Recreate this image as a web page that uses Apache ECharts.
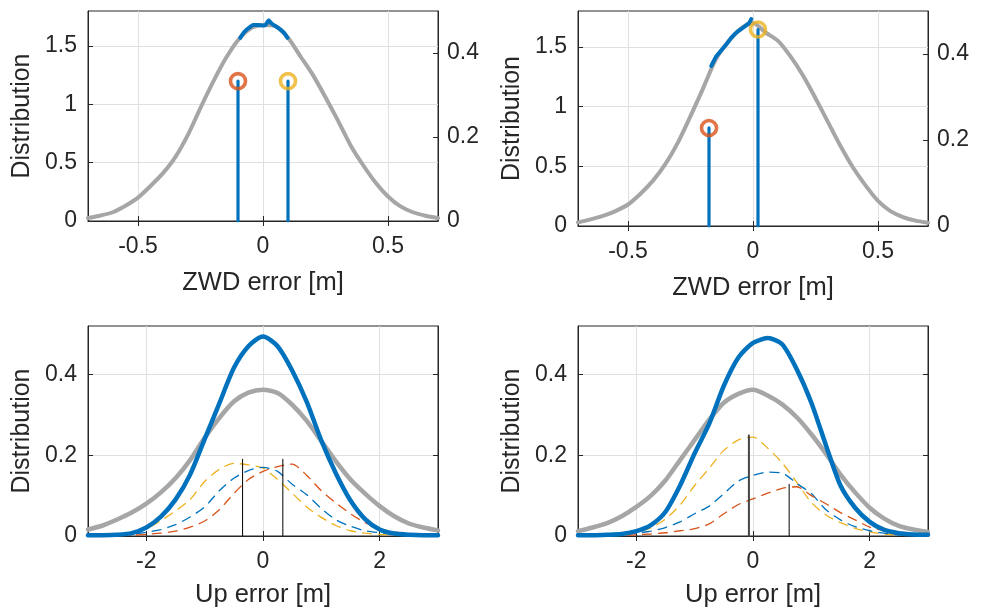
<!DOCTYPE html>
<html>
<head>
<meta charset="utf-8">
<title>ZWD / Up error distributions</title>
<script src="https://cdn.jsdelivr.net/npm/echarts@6.0.0/dist/echarts.min.js"></script>
<style>
  html, body { margin: 0; padding: 0; background: #fff; }
  #chart { width: 984px; height: 609px; }
</style>
</head>
<body>
<div id="chart"></div>
<script>
// ---- data ----
// top panels: ZWD error [m]
var zwdX = [-0.70,-0.65,-0.60,-0.55,-0.50,-0.45,-0.40,-0.35,-0.30,-0.25,-0.20,-0.15,-0.10,-0.05,
            0.00,0.05,0.10,0.15,0.20,0.25,0.30,0.35,0.40,0.45,0.50,0.55,0.60,0.65,0.70];
var zwdGrayA = [0.025,0.047,0.075,0.13,0.20,0.30,0.41,0.55,0.74,0.97,1.19,1.39,1.55,1.65,
                1.68,1.67,1.57,1.41,1.25,1.06,0.86,0.65,0.48,0.33,0.21,0.125,0.075,0.045,0.025];
var zwdGrayB = [0.03,0.055,0.085,0.125,0.18,0.27,0.38,0.52,0.70,0.92,1.15,1.39,1.54,1.65,
                1.70,1.62,1.55,1.42,1.26,1.07,0.87,0.67,0.49,0.34,0.21,0.125,0.075,0.045,0.028];
// highlighted (blue) part of the distribution
var zwdBlueAX = [-0.091,-0.075,-0.06,-0.04,-0.02,0.0,0.01,0.023,0.035,0.05,0.07,0.085,0.098];
var zwdBlueAY = [1.57,1.62,1.65,1.68,1.68,1.675,1.68,1.72,1.69,1.67,1.64,1.61,1.57];
var zwdBlueBX = [-0.167,-0.147,-0.113,-0.087,-0.06,-0.033,-0.015,-0.007];
var zwdBlueBY = [1.34,1.42,1.505,1.575,1.63,1.672,1.70,1.733];
// stems (right axis): [red, yellow]
var stemAX = [-0.10, 0.10];
var stemAY = [0.333, 0.333];
var stemBX = [-0.176, 0.02];
var stemBY = [0.228, 0.457];

// bottom panels: Up error [m]
var upX = [-3.00,-2.75,-2.50,-2.25,-2.00,-1.75,-1.50,-1.25,-1.00,-0.75,-0.50,-0.25,
           0.00,0.25,0.50,0.75,1.00,1.25,1.50,1.75,2.00,2.25,2.50,2.75,3.00];
var upGrayA = [0.016,0.026,0.041,0.058,0.080,0.108,0.143,0.188,0.243,0.292,0.333,0.355,
               0.362,0.354,0.325,0.285,0.235,0.185,0.140,0.105,0.074,0.049,0.031,0.021,0.014];
var upBlueA = [0.002,0.002,0.003,0.007,0.021,0.048,0.090,0.152,0.240,0.328,0.416,0.470,
               0.494,0.470,0.410,0.332,0.236,0.155,0.088,0.042,0.016,0.006,0.003,0.002,0.002];
var upYellowA = [0.000,0.001,0.003,0.008,0.018,0.038,0.062,0.090,0.135,0.165,0.180,0.176,
                 0.168,0.140,0.106,0.072,0.046,0.026,0.013,0.007,0.004,0.002,0.001,0.001,0.000];
var upDashBlueA = [0.000,0.001,0.002,0.004,0.009,0.016,0.028,0.047,0.072,0.112,0.143,0.162,
                   0.170,0.160,0.128,0.102,0.068,0.040,0.024,0.013,0.008,0.004,0.002,0.001,0.000];
var upRedA = [0.000,0.000,0.001,0.002,0.004,0.007,0.012,0.022,0.037,0.065,0.105,0.140,
              0.160,0.172,0.178,0.150,0.112,0.082,0.055,0.033,0.018,0.010,0.006,0.003,0.001];
var upMarkA = [[-0.35, 0.19], [0.34, 0.19]];

var upGrayB = [0.012,0.021,0.032,0.049,0.072,0.100,0.138,0.188,0.238,0.288,0.330,0.352,
               0.362,0.348,0.326,0.294,0.252,0.204,0.152,0.108,0.070,0.043,0.025,0.016,0.010];
var upBlueB = [0.002,0.002,0.003,0.005,0.012,0.027,0.060,0.125,0.205,0.278,0.372,0.442,
               0.478,0.490,0.475,0.413,0.330,0.225,0.125,0.070,0.035,0.015,0.007,0.004,0.003];
var upYellowB = [0.000,0.001,0.002,0.004,0.009,0.020,0.042,0.077,0.125,0.168,0.212,0.238,
                 0.245,0.218,0.181,0.133,0.083,0.052,0.033,0.019,0.010,0.005,0.003,0.001,0.000];
var upDashBlueB = [0.000,0.001,0.002,0.004,0.007,0.012,0.021,0.035,0.055,0.074,0.105,0.136,
                   0.150,0.158,0.156,0.130,0.105,0.065,0.040,0.023,0.013,0.007,0.003,0.001,0.000];
var upRedB = [0.000,0.000,0.001,0.002,0.003,0.005,0.008,0.013,0.018,0.030,0.055,0.078,
              0.092,0.106,0.118,0.122,0.100,0.080,0.058,0.040,0.022,0.013,0.007,0.004,0.002];
var upMarkB = [[-0.07, 0.249], [0.62, 0.128]];

// tick labels
var zwdTicks = [-0.5, 0, 0.5];
var upTicks = [-2, 0, 2];
var zwdLeftTicks = [0, 0.5, 1, 1.5];
var zwdRightTicks = [0, 0.2, 0.4];
var upYTicks = [0, 0.2, 0.4];

// ---- styles ----
var BLUE = '#0072BD', RED = '#D95319', YELLOW = '#EDB120', GRAY = '#A6A6A6', AX = '#262626';
var FONT = 'Liberation Sans, Arial, Helvetica, sans-serif';

function pairs(xs, ys) {
    return xs.map(function (x, i) { return [x, ys[i]]; });
}

var grids = [
    { left: 88, top: 11, width: 350, height: 210 },
    { left: 578, top: 11, width: 350, height: 215 },
    { left: 88, top: 326, width: 350, height: 211 },
    { left: 578, top: 326, width: 350, height: 211 }
];
grids.forEach(function (g) {
    g.show = true;
    g.borderColor = AX;
    g.borderWidth = 1;
    g.backgroundColor = '#fff';
    g.containLabel = false;
});

function xAxisFor(gi, min, max, ticks, name, gap) {
    return {
        type: 'value', gridIndex: gi, min: min, max: max, position: 'bottom',
        name: name, nameLocation: 'middle', nameGap: gap,
        nameTextStyle: { fontFamily: FONT, fontSize: 25.5, color: AX },
        axisLine: { show: true, onZero: false, lineStyle: { color: AX, width: 1 } },
        axisTick: { show: true, inside: true, length: 5, customValues: ticks, lineStyle: { color: AX } },
        axisLabel: { show: true, customValues: ticks, margin: 14, fontFamily: FONT, fontSize: 23, color: AX,
                     formatter: function (v) { return String(v); } },
        splitLine: { show: true, lineStyle: { color: '#e0e0e0', width: 1 } }
    };
}
function topAxisFor(gi, min, max, ticks) {
    return {
        type: 'value', gridIndex: gi, min: min, max: max, position: 'top',
        axisLine: { show: false },
        axisTick: { show: true, inside: true, length: 5, customValues: ticks, lineStyle: { color: AX } },
        axisLabel: { show: false },
        splitLine: { show: false }
    };
}
function yAxisFor(gi, max, ticks, side, name, labels, grid) {
    return {
        type: 'value', gridIndex: gi, min: 0, max: max, position: side,
        name: name || '', nameLocation: 'middle', nameGap: 53, nameRotate: 90,
        nameTextStyle: { fontFamily: FONT, fontSize: 25, color: AX },
        axisLine: { show: true, onZero: false, lineStyle: { color: AX, width: 1 } },
        axisTick: { show: true, inside: true, length: 5, customValues: ticks, lineStyle: { color: AX } },
        axisLabel: { show: labels, customValues: ticks, margin: side === 'left' ? 11 : 9,
                     fontFamily: FONT, fontSize: 23, color: AX,
                     formatter: function (v) { return String(v); } },
        splitLine: { show: grid, lineStyle: { color: '#e0e0e0', width: 1 } }
    };
}

var xAxes = [
    xAxisFor(0, -0.7, 0.7, zwdTicks, 'ZWD error [m]', 49),
    xAxisFor(1, -0.7, 0.7, zwdTicks, 'ZWD error [m]', 49),
    xAxisFor(2, -3, 3, upTicks, 'Up error [m]', 46),
    xAxisFor(3, -3, 3, upTicks, 'Up error [m]', 46),
    topAxisFor(0, -0.7, 0.7, zwdTicks),
    topAxisFor(1, -0.7, 0.7, zwdTicks),
    topAxisFor(2, -3, 3, upTicks),
    topAxisFor(3, -3, 3, upTicks)
];
var yAxes = [
    yAxisFor(0, 1.8, zwdLeftTicks, 'left', 'Distribution', true, true),
    yAxisFor(0, 0.5, zwdRightTicks, 'right', '', true, false),
    yAxisFor(1, 1.8, zwdLeftTicks, 'left', 'Distribution', true, true),
    yAxisFor(1, 0.5, zwdRightTicks, 'right', '', true, false),
    yAxisFor(2, 0.52, upYTicks, 'left', 'Distribution', true, true),
    yAxisFor(2, 0.52, upYTicks, 'right', '', false, false),
    yAxisFor(3, 0.52, upYTicks, 'left', 'Distribution', true, true),
    yAxisFor(3, 0.52, upYTicks, 'right', '', false, false)
];

var series = [];
function line(xi, yi, data, color, width, opts) {
    var s = {
        type: 'line', xAxisIndex: xi, yAxisIndex: yi, data: data,
        showSymbol: false, symbol: 'none', smooth: 0.25, silent: true,
        lineStyle: { color: color, width: width, cap: 'round', join: 'round' },
        z: 3
    };
    if (opts) Object.keys(opts).forEach(function (k) { s[k] = opts[k]; });
    return s;
}
function stems(xi, yi, xs, ys, ringColors) {
    xs.forEach(function (x, i) {
        series.push(line(xi, yi, [[x, 0], [x, ys[i]]], BLUE, 3.2, { smooth: false, z: 4 }));
        series.push({
            type: 'scatter', xAxisIndex: xi, yAxisIndex: yi, data: [[x, ys[i]]],
            symbol: 'circle', symbolSize: 15, silent: true, z: 5,
            itemStyle: { color: 'rgba(255,255,255,0)', borderColor: ringColors[i], borderWidth: 3.6 }
        });
    });
}
function markers(xi, yi, marks, colors, widths) {
    marks.forEach(function (m, i) {
        series.push(line(xi, yi, [[m[0], 0], [m[0], m[1]]], colors[i], widths[i], { smooth: false, z: 6 }));
    });
}

// top-left
series.push(line(0, 0, pairs(zwdX, zwdGrayA), GRAY, 4));
series.push(line(0, 0, pairs(zwdBlueAX, zwdBlueAY), BLUE, 4, { z: 4, smooth: 0.1 }));
stems(0, 1, stemAX, stemAY, [RED, YELLOW]);
// top-right
series.push(line(1, 2, pairs(zwdX, zwdGrayB), GRAY, 4));
series.push(line(1, 2, pairs(zwdBlueBX, zwdBlueBY), BLUE, 4, { z: 4, smooth: 0.1 }));
stems(1, 3, stemBX, stemBY, [RED, YELLOW]);

// bottom panels
var dashType = [10, 6];
function dashed(xi, yi, ys, color) {
    return line(xi, yi, pairs(upX, ys), color, 1.3, { lineStyle: { color: color, width: 1.3, type: dashType } });
}
function upPanel(xi, yi, gray, blue, yellow, dblue, red, marks, markColors, markWidths) {
    series.push(line(xi, yi, pairs(upX, gray), GRAY, 4.5));
    series.push(dashed(xi, yi, yellow, YELLOW));
    series.push(dashed(xi, yi, dblue, BLUE));
    series.push(dashed(xi, yi, red, RED));
    series.push(line(xi, yi, pairs(upX, blue), BLUE, 4.5, { z: 4 }));
    markers(xi, yi, marks, markColors, markWidths);
}
upPanel(2, 4, upGrayA, upBlueA, upYellowA, upDashBlueA, upRedA, upMarkA, ['#000', '#000'], [1, 1]);
upPanel(3, 6, upGrayB, upBlueB, upYellowB, upDashBlueB, upRedB, upMarkB, ['#444', '#000'], [2, 1]);

var chart = echarts.init(document.getElementById('chart'), null, { renderer: 'canvas' });
chart.setOption({
    animation: false,
    backgroundColor: '#fff',
    grid: grids,
    xAxis: xAxes,
    yAxis: yAxes,
    series: series
});
</script>
</body>
</html>
